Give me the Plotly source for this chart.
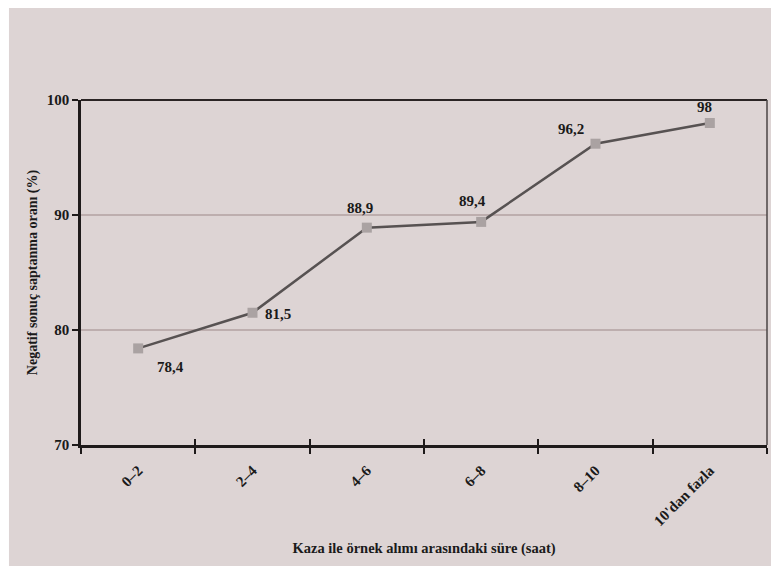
import plotly.graph_objects as go

categories = ["0–2", "2–4", "4–6", "6–8", "8–10", "10'dan fazla"]
values = [78.4, 81.5, 88.9, 89.4, 96.2, 98]
value_labels = ["78,4", "81,5", "88,9", "89,4", "96,2", "98"]
y_ticks = [70, 80, 90, 100]

# label offsets in pixels (x right, y up) – styling only
label_dx = [32, 25, -7, -9, -25, -5]
label_dy = [-19, -1, 20, 21, 15, 16]

BG = "#ddd4d4"
FONT = "Liberation Serif"
INK = "#1a1a1a"

fig = go.Figure()
fig.add_trace(go.Scatter(
    x=categories, y=values, mode="lines+markers",
    line=dict(color="#575252", width=2.5),
    marker=dict(symbol="square", size=10, color="#aaa2a2"),
    cliponaxis=False, showlegend=False,
))
# invisible trace on overlay axis for crossing ticks
fig.add_trace(go.Scatter(x=categories, y=values, xaxis="x2", mode="none",
                         showlegend=False, hoverinfo="skip"))

annotations = []
for c, v, t, dx, dy in zip(categories, values, value_labels, label_dx, label_dy):
    annotations.append(dict(
        x=c, y=v, xref="x", yref="y", text=f"<b>{t}</b>", showarrow=False,
        xshift=dx, yshift=dy, font=dict(family=FONT, size=15, color=INK),
    ))

fig.update_layout(
    width=771, height=558,
    margin=dict(l=73, r=12, t=92, b=121, autoexpand=False),
    paper_bgcolor="white",
    plot_bgcolor="rgba(0,0,0,0)",
    font=dict(family=FONT, color=INK),
    annotations=annotations,
    xaxis=dict(
        type="category", range=[-0.5, 5.5], automargin=False,
        tickson="boundaries", ticks="outside", ticklen=6, tickwidth=2, tickcolor="#1e1a1a",
        showline=True, linecolor="#1e1a1a", linewidth=3,
        showgrid=False, tickangle=-45, ticklabelstandoff=8,
        tickfont=dict(family=FONT, size=15, color=INK, weight="bold"),
        title=dict(text="<b>Kaza ile örnek alımı arasındaki süre (saat)</b>",
                   font=dict(family=FONT, size=14.5, color=INK), standoff=15),
        zeroline=False,
    ),
    xaxis2=dict(
        type="category", range=[-0.5, 5.5], overlaying="x", anchor="y", side="bottom",
        tickson="boundaries", ticks="inside", ticklen=6, tickwidth=2, tickcolor="#1e1a1a",
        showticklabels=False, showline=False, showgrid=False, zeroline=False,
    ),
    yaxis=dict(
        range=[70, 100], tickvals=y_ticks, ticks="outside", ticklen=6, tickwidth=2,
        tickcolor="#1e1a1a", automargin=False,
        showline=True, linecolor="#1e1a1a", linewidth=2.5,
        showgrid=True, gridcolor="#bdaeae", gridwidth=2,
        tickfont=dict(family=FONT, size=15, color=INK, weight="bold"),
        title=dict(text="<b>Negatif sonuç saptanma oranı (%)</b>",
                   font=dict(family=FONT, size=14, color=INK), standoff=6),
        zeroline=False,
    ),
    shapes=[
        dict(type="rect", xref="paper", yref="paper", x0=-0.105, x1=1.0102, y0=-0.4, y1=1.3,
             fillcolor=BG, line=dict(width=0), layer="below"),
        dict(type="line", xref="paper", yref="paper", x0=0, x1=1, y0=1, y1=1,
             line=dict(color="#2a2424", width=2), layer="above"),
        dict(type="line", xref="paper", yref="paper", x0=1, x1=1, y0=0, y1=1,
             line=dict(color="#4a4444", width=1.5), layer="above"),
    ],
)

fig.write_html("out.html")
